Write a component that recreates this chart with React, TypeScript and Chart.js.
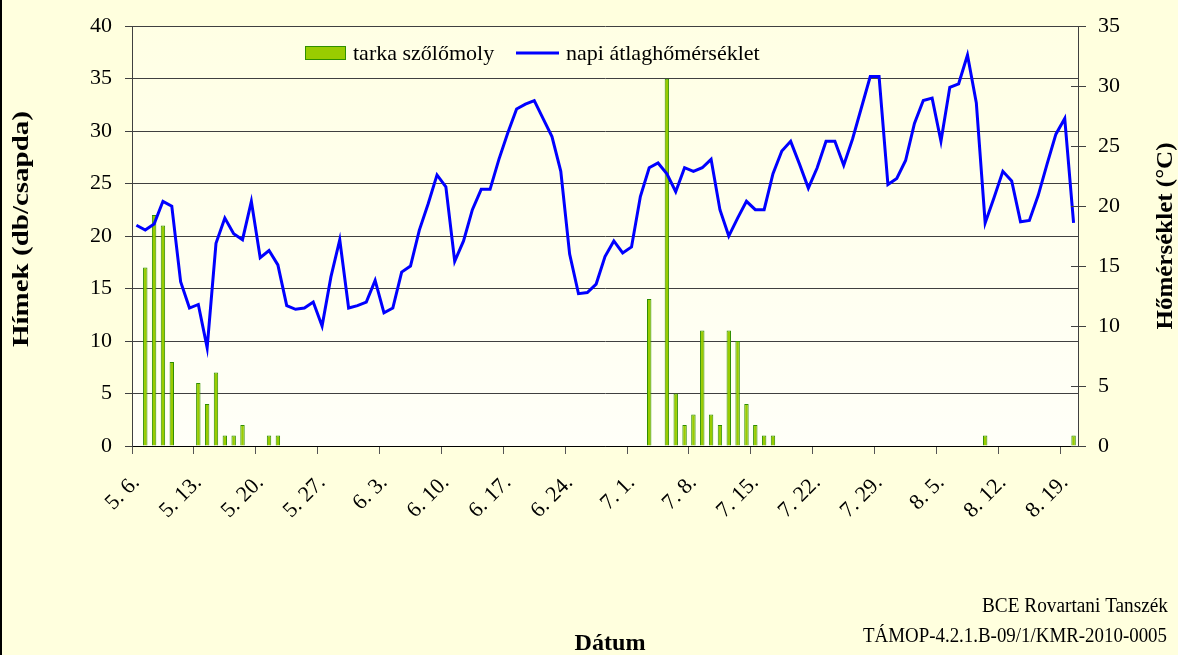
import React, { useEffect, useRef } from 'react';
import { Chart, registerables } from 'chart.js';
Chart.register(...registerables);

const dates: string[] = [
  '5. 6.', '5. 7.', '5. 8.', '5. 9.', '5. 10.', '5. 11.', '5. 12.', '5. 13.', '5. 14.', '5. 15.',
  '5. 16.', '5. 17.', '5. 18.', '5. 19.', '5. 20.', '5. 21.', '5. 22.', '5. 23.', '5. 24.', '5. 25.',
  '5. 26.', '5. 27.', '5. 28.', '5. 29.', '5. 30.', '5. 31.',
  '6. 1.', '6. 2.', '6. 3.', '6. 4.', '6. 5.', '6. 6.', '6. 7.', '6. 8.', '6. 9.', '6. 10.',
  '6. 11.', '6. 12.', '6. 13.', '6. 14.', '6. 15.', '6. 16.', '6. 17.', '6. 18.', '6. 19.', '6. 20.',
  '6. 21.', '6. 22.', '6. 23.', '6. 24.', '6. 25.', '6. 26.', '6. 27.', '6. 28.', '6. 29.', '6. 30.',
  '7. 1.', '7. 2.', '7. 3.', '7. 4.', '7. 5.', '7. 6.', '7. 7.', '7. 8.', '7. 9.', '7. 10.',
  '7. 11.', '7. 12.', '7. 13.', '7. 14.', '7. 15.', '7. 16.', '7. 17.', '7. 18.', '7. 19.', '7. 20.',
  '7. 21.', '7. 22.', '7. 23.', '7. 24.', '7. 25.', '7. 26.', '7. 27.', '7. 28.', '7. 29.', '7. 30.',
  '7. 31.',
  '8. 1.', '8. 2.', '8. 3.', '8. 4.', '8. 5.', '8. 6.', '8. 7.', '8. 8.', '8. 9.', '8. 10.',
  '8. 11.', '8. 12.', '8. 13.', '8. 14.', '8. 15.', '8. 16.', '8. 17.', '8. 18.', '8. 19.', '8. 20.',
];

const tickLabels: string[] = [
  '5. 6.', '5. 13.', '5. 20.', '5. 27.', '6. 3.', '6. 10.', '6. 17.', '6. 24.',
  '7. 1.', '7. 8.', '7. 15.', '7. 22.', '7. 29.', '8. 5.', '8. 12.', '8. 19.',
];

// tarka szőlőmoly – hímek (db/csapda)
const moths: number[] = [
  0, 17, 22, 21, 8, 0, 0, 6, 4, 7,
  1, 1, 2, 0, 0, 1, 1, 0, 0, 0,
  0, 0, 0, 0, 0, 0, 0, 0, 0, 0,
  0, 0, 0, 0, 0, 0, 0, 0, 0, 0,
  0, 0, 0, 0, 0, 0, 0, 0, 0, 0,
  0, 0, 0, 0, 0, 0, 0, 0, 14, 0,
  35, 5, 2, 3, 11, 3, 2, 11, 10, 4,
  2, 1, 1, 0, 0, 0, 0, 0, 0, 0,
  0, 0, 0, 0, 0, 0, 0, 0, 0, 0,
  0, 0, 0, 0, 0, 0, 1, 0, 0, 0,
  0, 0, 0, 0, 0, 0, 1,
];

// napi átlaghőmérséklet (°C)
const temps: number[] = [
  18.4, 18.0, 18.5, 20.4, 20.0, 13.7, 11.5, 11.8, 8.2, 16.9,
  19.0, 17.7, 17.2, 20.4, 15.7, 16.3, 15.1, 11.7, 11.4, 11.5,
  12.0, 10.0, 14.1, 17.2, 11.5, 11.7, 12.0, 13.8, 11.1, 11.5,
  14.5, 15.0, 18.0, 20.2, 22.6, 21.6, 15.4, 17.1, 19.7, 21.4,
  21.4, 23.9, 26.1, 28.1, 28.5, 28.8, 27.3, 25.8, 22.9, 16.0,
  12.7, 12.8, 13.5, 15.8, 17.1, 16.1, 16.6, 20.8, 23.2, 23.6,
  22.7, 21.2, 23.2, 22.9, 23.2, 23.9, 19.7, 17.5, 19.0, 20.4,
  19.7, 19.7, 22.7, 24.6, 25.4, 23.5, 21.5, 23.2, 25.4, 25.4,
  23.4, 25.6, 28.2, 30.8, 30.8, 21.8, 22.3, 23.8, 26.9, 28.8,
  29.0, 25.4, 29.9, 30.2, 32.6, 28.6, 18.6, 20.7, 22.9, 22.1,
  18.7, 18.8, 20.9, 23.5, 26.0, 27.3, 18.6,
];

const SERIF = '"Liberation Serif", "Times New Roman", serif';
const GRID = '#404040';

function fitText(ctx: CanvasRenderingContext2D, text: string, cx: number, cy: number, rot: number, font: string, len: number) {
  ctx.save();
  ctx.font = font;
  const w = ctx.measureText(text).width;
  ctx.translate(cx, cy);
  ctx.rotate(rot);
  ctx.scale(len / w, 1);
  ctx.textAlign = 'center';
  ctx.textBaseline = 'middle';
  ctx.fillStyle = '#000';
  ctx.fillText(text, 0, 0);
  ctx.restore();
}

const decorPlugin = {
  id: 'decor',
  beforeDraw(chart: any) {
    const { ctx, chartArea: a, width, height } = chart;
    ctx.save();
    ctx.fillStyle = '#FFFFDE';
    ctx.fillRect(0, 0, width, height);
    const g = ctx.createLinearGradient(0, a.top, 0, a.bottom);
    g.addColorStop(0, '#FFFFE4');
    g.addColorStop(1, '#FFFFF8');
    ctx.fillStyle = g;
    ctx.fillRect(a.left, a.top, a.right - a.left, a.bottom - a.top);
    ctx.fillStyle = '#000';
    ctx.fillRect(0, 0, 2, height);
    ctx.restore();
  },
  afterDraw(chart: any) {
    const { ctx, chartArea: a } = chart;
    const y1 = chart.scales.y1;
    ctx.save();
    // inner halves of right-axis ticks
    ctx.strokeStyle = GRID;
    ctx.lineWidth = 1;
    for (const t of y1.ticks) {
      const py = Math.round(y1.getPixelForValue(t.value)) + 0.5;
      ctx.beginPath();
      ctx.moveTo(a.right - 7, py);
      ctx.lineTo(a.right, py);
      ctx.stroke();
    }
    // legend
    ctx.fillStyle = '#99CC00';
    ctx.strokeStyle = '#2F8F00';
    ctx.lineWidth = 1;
    ctx.fillRect(305, 46, 40, 13);
    ctx.strokeRect(305.5, 46.5, 40, 13);
    ctx.fillStyle = '#000';
    ctx.font = `22px ${SERIF}`;
    ctx.textAlign = 'left';
    ctx.textBaseline = 'middle';
    ctx.fillText('tarka szőlőmoly', 353, 54);
    ctx.strokeStyle = '#0000FF';
    ctx.lineWidth = 3;
    ctx.beginPath();
    ctx.moveTo(516, 53);
    ctx.lineTo(559, 53);
    ctx.stroke();
    ctx.fillText('napi átlaghőmérséklet', 566, 54);
    ctx.restore();

    // axis titles
    fitText(ctx, 'Hímek (db/csapda)', 22, 229, -Math.PI / 2, `bold 24px ${SERIF}`, 236);
    fitText(ctx, 'Hőmérséklet (°C)', 1166, 236, -Math.PI / 2, `bold 23px ${SERIF}`, 187);
    fitText(ctx, 'Dátum', 610, 644, 0, `bold 24px ${SERIF}`, 71);

    // footer
    ctx.save();
    ctx.fillStyle = '#000';
    ctx.font = `20px ${SERIF}`;
    ctx.textAlign = 'right';
    ctx.textBaseline = 'middle';
    ctx.fillText('BCE Rovartani Tanszék', 1168, 607, 186);
    ctx.fillText('TÁMOP-4.2.1.B-09/1/KMR-2010-0005', 1167, 637, 304);
    ctx.restore();
  },
};

export default function App() {
  const ref = useRef<HTMLCanvasElement | null>(null);

  useEffect(() => {
    if (!ref.current) return;
    const isTick = (i: number) => i < dates.length && tickLabels.includes(dates[i]);
    const chart = new Chart(ref.current, {
      type: 'bar',
      data: {
        labels: dates,
        datasets: [
          {
            type: 'bar',
            label: 'tarka szőlőmoly',
            data: moths.map((v) => (v === 0 ? null : v)),
            backgroundColor: '#99CC00',
            borderColor: '#2F8F00',
            borderWidth: 1,
            barPercentage: 0.5,
            categoryPercentage: 1,
            yAxisID: 'y',
            order: 1,
          },
          {
            type: 'line',
            label: 'napi átlaghőmérséklet',
            data: temps,
            borderColor: '#0000FF',
            backgroundColor: '#0000FF',
            borderWidth: 3,
            pointRadius: 0,
            tension: 0,
            yAxisID: 'y1',
            order: 0,
          },
        ] as any,
      },
      options: {
        animation: false,
        responsive: false,
        layout: { padding: { left: 0, right: 0, top: 25, bottom: 0 } },
        plugins: {
          legend: { display: false },
          tooltip: { enabled: false },
          title: { display: false },
        },
        scales: {
          x: {
            type: 'category',
            offset: true,
            afterFit: (s: any) => { s.height = 209; },
            grid: {
              offset: true,
              drawOnChartArea: false,
              drawTicks: true,
              tickLength: 8,
              color: (c: any) => (isTick(c.index) ? '#555555' : 'rgba(0,0,0,0)'),
            },
            border: { display: true, color: '#000', width: 1 },
            ticks: {
              autoSkip: false,
              minRotation: 45,
              maxRotation: 45,
              padding: 16,
              color: '#000',
              font: { family: SERIF, size: 22 },
              callback: (_v: any, i: number) => (tickLabels.includes(dates[i]) ? dates[i] : ''),
            },
          },
          y: {
            position: 'left',
            min: 0,
            max: 40,
            afterFit: (s: any) => { s.width = 132; },
            grid: { color: GRID, lineWidth: 1, tickLength: 7 },
            border: { display: true, color: GRID, width: 1 },
            ticks: {
              stepSize: 5,
              padding: 13,
              color: '#000',
              font: { family: SERIF, size: 22 },
            },
          },
          y1: {
            position: 'right',
            min: 0,
            max: 35,
            afterFit: (s: any) => { s.width = 100; },
            grid: { drawOnChartArea: false, color: GRID, tickLength: 8 },
            border: { display: true, color: GRID, width: 1 },
            ticks: {
              stepSize: 5,
              padding: 12,
              color: '#000',
              font: { family: SERIF, size: 22 },
            },
          },
        },
      } as any,
      plugins: [decorPlugin],
    });
    return () => chart.destroy();
  }, []);

  return (
    <div style={{ position: 'fixed', left: 0, top: 0, width: 1178, height: 655 }}>
      <canvas ref={ref} width={1178} height={655} style={{ display: 'block' }} />
    </div>
  );
}
